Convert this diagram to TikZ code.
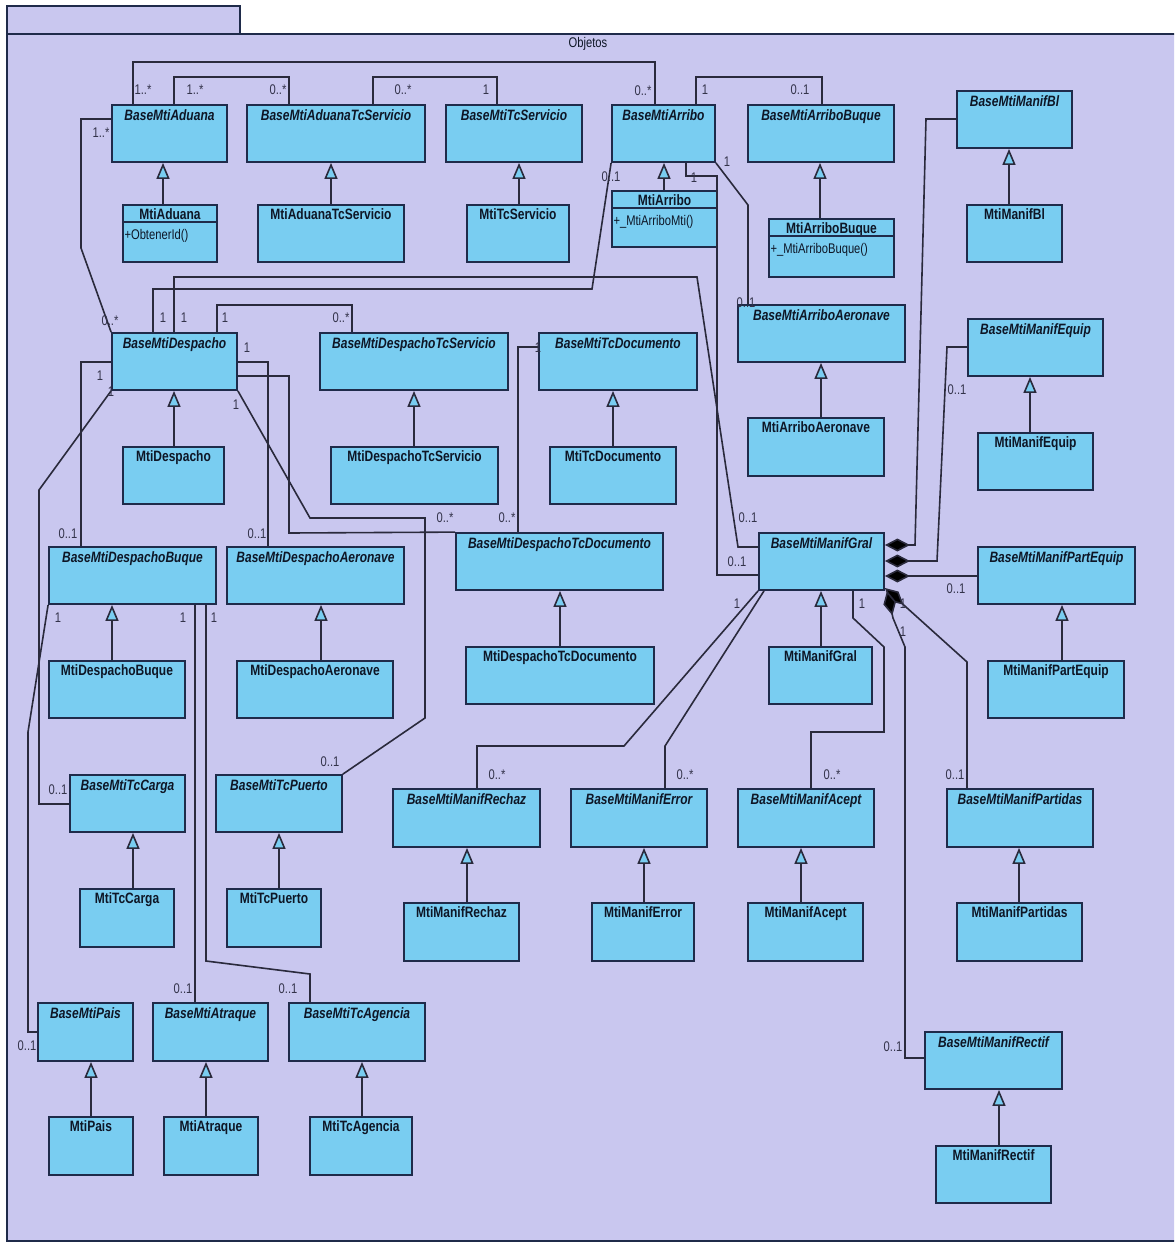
\documentclass[tikz,border=0pt]{standalone}
\usepackage{fontspec}
\newfontfamily\umlfont[FakeStretch=0.8]{Liberation Sans}
\usetikzlibrary{arrows.meta,fit,calc}
\definecolor{Paper}{HTML}{FFFFFF}
\definecolor{Pkg}{HTML}{C9C7EF}
\definecolor{Sky}{HTML}{79CDF1}
\definecolor{Edge}{HTML}{1F2B4A}
\definecolor{Wire}{HTML}{2A2A3C}
\definecolor{Ink}{HTML}{0E1626}
\definecolor{Mult}{HTML}{33334A}

\begin{document}
\begin{tikzpicture}[
  x=0.5pt,y=-0.5pt,
  abs/.style={draw=Edge,fill=Sky,line width=0.9pt,inner sep=0pt},
  ttlabs/.style={font=\umlfont\fontsize{7.5}{9}\selectfont\bfseries\itshape,text=Ink,anchor=base,inner sep=0pt},
  ttlcon/.style={font=\umlfont\fontsize{7.5}{9}\selectfont\bfseries,text=Ink,anchor=base,inner sep=0pt},
  meth/.style={font=\umlfont\fontsize{7}{8}\selectfont,text=Ink,anchor=base west,inner sep=0pt},
  mult/.style={font=\umlfont\fontsize{7}{8}\selectfont,text=Mult,inner sep=0pt},
  assoc/.style={draw=Wire,line width=0.8pt},
  gen/.style={draw=Wire,line width=0.8pt,-{Triangle[fill=Sky,length=8pt,width=6.5pt]}},
  comp/.style={draw=Wire,line width=0.8pt,{Diamond[fill=black,length=12.5pt,width=6.5pt]}-}
]
\useasboundingbox (0,0) rectangle (1174,1243);
\clip (0,0) rectangle (1174,1243);
\fill[Paper] (0,0) rectangle (1174,1243);
% package frame
\draw[draw=Edge,fill=Pkg,line width=0.8pt] (7,6) rectangle (240,34);
\draw[draw=Edge,fill=Pkg,line width=0.8pt] (7,34) rectangle (1190,1241);
\node[mult,text=Ink] (pkgname) at (588,44) {Objetos};

% abstract base classes
\foreach \n/\a/\b/\c/\d/\t in {
  bAduana/112/105/227/162/BaseMtiAduana,
  bAduanaTcServ/247/105/425/162/BaseMtiAduanaTcServicio,
  bTcServ/446/105/582/162/BaseMtiTcServicio,
  bArribo/612/105/715/162/BaseMtiArribo,
  bArriboBuque/748/105/894/162/BaseMtiArriboBuque,
  bManifBl/957/91/1072/148/BaseMtiManifBl,
  bDespacho/112/333/237/390/BaseMtiDespacho,
  bDespTcServ/320/333/508/390/BaseMtiDespachoTcServicio,
  bTcDoc/539/333/697/390/BaseMtiTcDocumento,
  bArriboAero/738/305/905/362/BaseMtiArriboAeronave,
  bManifEquip/968/319/1103/376/BaseMtiManifEquip,
  bDespBuque/49/547/216/604/BaseMtiDespachoBuque,
  bDespAero/227/547/404/604/BaseMtiDespachoAeronave,
  bDespTcDoc/456/533/663/590/BaseMtiDespachoTcDocumento,
  bManifGral/759/533/884/590/BaseMtiManifGral,
  bManifPartEquip/978/547/1135/604/BaseMtiManifPartEquip,
  bTcCarga/70/775/185/832/BaseMtiTcCarga,
  bTcPuerto/216/775/342/832/BaseMtiTcPuerto,
  bManifRechaz/393/789/540/847/BaseMtiManifRechaz,
  bManifError/571/789/707/847/BaseMtiManifError,
  bManifAcept/738/789/874/847/BaseMtiManifAcept,
  bManifPartidas/947/789/1093/847/BaseMtiManifPartidas,
  bPais/38/1003/133/1061/BaseMtiPais,
  bAtraque/153/1003/268/1061/BaseMtiAtraque,
  bTcAgencia/289/1003/425/1061/BaseMtiTcAgencia,
  bManifRectif/925/1032/1062/1089/BaseMtiManifRectif}
{
  \node[abs,fit={(\a,\b) (\c,\d)}] (\n) {};
  \node[ttlabs] (\n-t) at ([yshift=-8pt]\n.north) {\t};
}

% concrete classes
\foreach \n/\a/\b/\c/\d/\t in {
  mAduana/123/205/217/262/MtiAduana,
  mAduanaTcServ/258/205/404/262/MtiAduanaTcServicio,
  mTcServ/467/205/569/262/MtiTcServicio,
  mArribo/612/191/717/247/MtiArribo,
  mArriboBuque/769/219/894/277/MtiArriboBuque,
  mManifBl/967/205/1062/262/MtiManifBl,
  mDespacho/123/447/224/504/MtiDespacho,
  mDespTcServ/331/447/498/504/MtiDespachoTcServicio,
  mTcDoc/550/447/676/504/MtiTcDocumento,
  mArriboAero/748/418/884/476/MtiArriboAeronave,
  mManifEquip/978/433/1093/490/MtiManifEquip,
  mDespBuque/49/661/185/718/MtiDespachoBuque,
  mDespAero/237/661/393/718/MtiDespachoAeronave,
  mDespTcDoc/466/647/654/704/MtiDespachoTcDocumento,
  mManifGral/769/647/872/704/MtiManifGral,
  mManifPartEquip/988/661/1124/718/MtiManifPartEquip,
  mTcCarga/80/889/174/947/MtiTcCarga,
  mTcPuerto/227/889/321/947/MtiTcPuerto,
  mManifRechaz/404/903/519/961/MtiManifRechaz,
  mManifError/592/903/694/961/MtiManifError,
  mManifAcept/748/903/863/961/MtiManifAcept,
  mManifPartidas/957/903/1082/961/MtiManifPartidas,
  mPais/49/1117/133/1175/MtiPais,
  mAtraque/164/1117/258/1175/MtiAtraque,
  mTcAgencia/310/1117/412/1175/MtiTcAgencia,
  mManifRectif/936/1146/1051/1203/MtiManifRectif}
{
  \node[abs,fit={(\a,\b) (\c,\d)}] (\n) {};
  \node[ttlcon] (\n-t) at ([yshift=-7.5pt]\n.north) {\t};
}

% operation compartments
\foreach \n/\t in {mAduana/+ObtenerId(), mArribo/+\_MtiArriboMti(), mArriboBuque/+\_MtiArriboBuque()}
{
  \draw[draw=Edge,line width=0.9pt] ([yshift=-9pt]\n.north west) -- ([yshift=-9pt]\n.north east);
  \node[meth] (\n-op) at ([xshift=1pt,yshift=-17.5pt]\n.north west) {\t};
}

% generalizations
\foreach \c/\p/\x in {mAduana/bAduana/163, mAduanaTcServ/bAduanaTcServ/331, mTcServ/bTcServ/519,
  mArribo/bArribo/664, mArriboBuque/bArriboBuque/820, mManifBl/bManifBl/1009,
  mDespacho/bDespacho/174, mDespTcServ/bDespTcServ/414, mTcDoc/bTcDoc/613,
  mArriboAero/bArriboAero/821, mManifEquip/bManifEquip/1030, mDespBuque/bDespBuque/112,
  mDespAero/bDespAero/321, mDespTcDoc/bDespTcDoc/560, mManifGral/bManifGral/821,
  mManifPartEquip/bManifPartEquip/1062, mTcCarga/bTcCarga/133, mTcPuerto/bTcPuerto/279,
  mManifRechaz/bManifRechaz/467, mManifError/bManifError/644, mManifAcept/bManifAcept/801,
  mManifPartidas/bManifPartidas/1019, mPais/bPais/91, mAtraque/bAtraque/206,
  mTcAgencia/bTcAgencia/362, mManifRectif/bManifRectif/999}
  \draw[gen] (\c.north -| \x,0) -- (\p.south -| \x,0);

% associations
\draw[assoc] (bAduana.north -| 133,0) -- (133,62) -- (655,62) -- (bArribo.north -| 655,0);
\draw[assoc] (bAduana.north -| 174,0) -- (174,77) -- (289,77) -- (bAduanaTcServ.north -| 289,0);
\draw[assoc] (bAduanaTcServ.north -| 373,0) -- (373,77) -- (497,77) -- (bTcServ.north -| 497,0);
\draw[assoc] (bArribo.north -| 696,0) -- (696,77) -- (822,77) -- (bArriboBuque.north -| 822,0);
\draw[assoc] (bAduana.west |- 0,119) -- (81,119) -- (81,248) -- (bDespacho.north west);
\draw[assoc] (bArribo.south west) -- (592,289) -- (153,289) -- (bDespacho.north -| 153,0);
\draw[assoc] (bDespacho.north -| 174,0) -- (174,277) -- (697,277) -- (738,547) -- (bManifGral.west |- 0,547);
\draw[assoc] (bArribo.south -| 686,0) -- (686,176) -- (717,176) -- (717,575) -- (bManifGral.west |- 0,575);
\draw[assoc] (bArribo.south east) -- (748,205) -- (bArriboAero.north -| 748,0);
\draw[assoc] (bDespacho.north -| 217,0) -- (217,305) -- (352,305) -- (bDespTcServ.north -| 352,0);
\draw[assoc] (bDespacho.east |- 0,362) -- (268,362) -- (bDespAero.north -| 268,0);
\draw[assoc] (bDespacho.east |- 0,376) -- (289,376) -- (289,533) -- (bDespTcDoc.north west);
\draw[assoc] (bDespacho.south east) -- (310,518) -- (425,518) -- (425,718) -- (bTcPuerto.north east);
\draw[assoc] (bTcDoc.west |- 0,347) -- (518,347) -- (bDespTcDoc.north -| 518,0);
\draw[assoc] (bDespacho.west |- 0,362) -- (81,362) -- (bDespBuque.north -| 81,0);
\draw[assoc] (bDespacho.south west) -- (39,490) -- (39,804) -- (bTcCarga.west |- 0,804);
\draw[assoc] (bDespBuque.south west) -- (28,732) -- (28,1032) -- (bPais.west |- 0,1032);
\draw[assoc] (bDespBuque.south -| 195,0) -- (bAtraque.north -| 195,0);
\draw[assoc] (bDespBuque.south -| 206,0) -- (206,961) -- (310,974) -- (bTcAgencia.north -| 310,0);
\draw[assoc] (bManifGral.south west) -- (624,746) -- (477,746) -- (bManifRechaz.north -| 477,0);
\draw[assoc] (bManifGral.south -| 764,0) -- (665,746) -- (bManifError.north -| 665,0);
\draw[assoc] (bManifGral.south -| 853,0) -- (853,618) -- (884,647) -- (884,732) -- (811,732) -- (bManifAcept.north -| 811,0);

% compositions
\draw[comp] (bManifGral.east |- 0,545) -- (915,545) -- (926,119) -- (bManifBl.west |- 0,119);
\draw[comp] (bManifGral.east |- 0,561) -- (937,561) -- (947,347) -- (bManifEquip.west |- 0,347);
\draw[comp] (bManifGral.east |- 0,576) -- (bManifPartEquip.west |- 0,576);
\draw[comp] (bManifGral.east |- 0,588) -- (967,662) -- (bManifPartidas.north -| 967,0);
\draw[comp] (bManifGral.south -| 887,0) -- (893,618) -- (905,647) -- (905,1058) -- (bManifRectif.west |- 0,1058);

% multiplicities
\foreach \x/\y/\t [count=\i] in {
  143/90/1..*, 643/91/0..*, 195/90/1..*, 278/90/0..*, 403/90/0..*, 486/90/1,
  705/90/1, 800/90/0..1, 101/133/1..*, 110/321/0..*, 611/177/0..1, 163/318/1,
  184/318/1, 748/518/0..1, 694/178/1, 737/562/0..1, 727/162/1, 746/303/0..1,
  225/318/1, 341/318/0..*, 247/348/1, 257/534/0..1, 445/518/0..*, 236/405/1,
  330/762/0..1, 538/348/1, 507/518/0..*, 100/376/1, 68/534/0..1, 111/392/1,
  58/790/0..1, 58/618/1, 27/1046/0..1, 183/618/1, 183/989/0..1, 214/618/1,
  288/989/0..1, 737/604/1, 497/775/0..*, 685/775/0..*, 862/604/1, 832/775/0..*,
  957/390/0..1, 956/589/0..1, 903/604/1, 955/775/0..1, 903/632/1, 893/1047/0..1}
  \node[mult] (mult\i) at (\x,\y) {\t};
\end{tikzpicture}
\end{document}
